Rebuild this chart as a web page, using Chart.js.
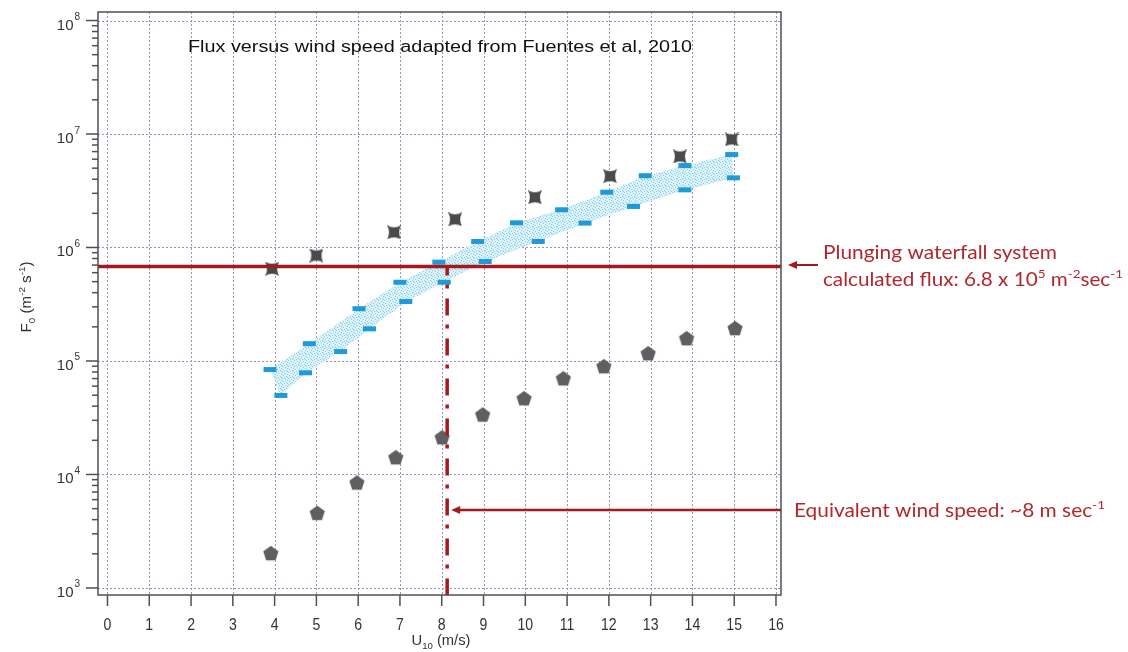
<!DOCTYPE html>
<html>
<head>
<meta charset="utf-8">
<title>Flux versus wind speed</title>
<script src="https://cdn.jsdelivr.net/npm/chart.js@4.4.1/dist/chart.umd.min.js"></script>
<style>
  html, body { margin: 0; padding: 0; background: #ffffff; }
  #c { display: block; }
</style>
</head>
<body>
<canvas id="c" width="1128" height="652"></canvas>
<script>
// ---- Data: sea-spray flux F0 (m^-2 s^-1) against wind speed U10 (m/s) ----
const starX = [3.94, 5.00, 6.86, 8.32, 10.23, 12.03, 13.70, 14.94];
const starY = [6.5e5, 8.5e5, 1.36e6, 1.77e6, 2.77e6, 4.25e6, 6.34e6, 8.95e6];

const pentX = [3.91, 5.02, 5.97, 6.90, 8.01, 8.98, 9.97, 10.91, 11.88, 12.94, 13.86, 15.02];
const pentY = [2.03e3, 4.59e3, 8.5e3, 1.42e4, 2.13e4, 3.38e4, 4.70e4, 7.04e4, 9.0e4, 1.17e5, 1.59e5, 1.95e5];

const upperX = [3.89, 4.83, 6.02, 7.00, 7.93, 8.86, 9.79, 10.87, 11.95, 12.87, 13.82, 14.94];
const upperY = [8.4e4, 1.42e5, 2.89e5, 4.94e5, 7.43e5, 1.13e6, 1.65e6, 2.15e6, 3.07e6, 4.29e6, 5.27e6, 6.59e6];

const lowerX = [4.15, 4.74, 5.58, 6.27, 7.14, 8.06, 9.04, 10.31, 11.43, 12.59, 13.82, 14.98];
const lowerY = [4.97e4, 7.87e4, 1.21e5, 1.92e5, 3.34e5, 4.94e5, 7.53e5, 1.13e6, 1.64e6, 2.30e6, 3.22e6, 4.11e6];

// Axis ticks
const xTickValues = [0, 1, 2, 3, 4, 5, 6, 7, 8, 9, 10, 11, 12, 13, 14, 15, 16];
const yDecadeExponents = [3, 4, 5, 6, 7, 8];

// Reference levels
const plungingFlux = 6.8e5;       // calculated flux of the plunging waterfall system
const equivalentWind = 8.13;      // wind speed where that flux meets the band

// ---- Styling ----
const SANS = "'Liberation Sans', Arial, Helvetica, sans-serif";
const HUMAN = "Lato, 'Open Sans', sans-serif";
const RED_LINE = '#a3191e';
const RED_TEXT = '#b3272c';
const GRID = '#9494bd';
const FRAME = '#505050';

// Marker images
function makeStar(size, color) {
  const c = document.createElement('canvas');
  c.width = c.height = size;
  const g = c.getContext('2d');
  const s = size, m = s / 2, k = s * 0.17;
  g.fillStyle = color;
  g.beginPath();
  g.moveTo(0, 0); g.quadraticCurveTo(m, k * 1.6, s, 0);
  g.quadraticCurveTo(s - k * 1.6, m, s, s);
  g.quadraticCurveTo(m, s - k * 1.6, 0, s);
  g.quadraticCurveTo(k * 1.6, m, 0, 0);
  g.closePath();
  g.fill();
  return c;
}
function makePentagon(r, color) {
  const s = Math.ceil(2 * r + 2);
  const c = document.createElement('canvas');
  c.width = c.height = s;
  const g = c.getContext('2d');
  const cx = s / 2, cy = s / 2 + r * 0.1;
  g.fillStyle = color;
  g.beginPath();
  for (let i = 0; i < 5; i++) {
    const a = -Math.PI / 2 + i * 2 * Math.PI / 5;
    const px = cx + r * Math.cos(a), py = cy + r * Math.sin(a);
    if (i === 0) g.moveTo(px, py); else g.lineTo(px, py);
  }
  g.closePath();
  g.fill();
  return c;
}
function makeSpeckle(g0) {
  const c = document.createElement('canvas');
  c.width = c.height = 6;
  const g = c.getContext('2d');
  g.fillStyle = '#dcf2f9';
  g.fillRect(0, 0, 6, 6);
  g.fillStyle = '#86cbe5';
  [[0, 0], [3, 1], [1, 3], [4, 4], [5, 2], [2, 5], [5, 5]].forEach(([x, y]) => g.fillRect(x, y, 1, 1));
  return g0.createPattern(c, 'repeat');
}

const starImg = makeStar(14, '#4a4a4a');
const pentImg = makePentagon(8, '#5f5f5f');

// ---- Rich text helper (superscripts / subscripts) ----
function runFont(r, size, fam) {
  const s = (r.sup || r.sub) ? size * 0.65 : size;
  return `${s}px ${fam}`;
}
function runsWidth(g, runs, size, fam) {
  let w = 0;
  for (const r of runs) { g.font = runFont(r, size, fam); w += g.measureText(r.t).width; }
  return w;
}
function drawRuns(g, runs, x, y, size, fam, color, align, fitW, sxFixed) {
  const w = runsWidth(g, runs, size, fam);
  let sx = sxFixed || 1;
  if (fitW) sx = fitW / w;
  const total = w * sx;
  const start = align === 'center' ? -total / 2 : align === 'right' ? -total : 0;
  g.save();
  g.fillStyle = color;
  g.textBaseline = 'alphabetic';
  g.textAlign = 'left';
  g.translate(x + start, y);
  g.scale(sx, 1);
  let cx = 0;
  for (const r of runs) {
    g.font = runFont(r, size, fam);
    const dy = r.sup ? -size * 0.4 : r.sub ? size * 0.25 : 0;
    g.fillText(r.t, cx, dy);
    cx += g.measureText(r.t).width;
  }
  g.restore();
}
function arrowLeft(g, x0, x1, y, width, headLen, headHalf, color) {
  g.save();
  g.strokeStyle = color; g.fillStyle = color; g.lineWidth = width;
  g.beginPath(); g.moveTo(x0 + headLen - 1, y); g.lineTo(x1, y); g.stroke();
  g.beginPath(); g.moveTo(x0, y); g.lineTo(x0 + headLen, y - headHalf); g.lineTo(x0 + headLen, y + headHalf); g.closePath(); g.fill();
  g.restore();
}

// ---- Axes, grid, band, annotations ----
const decorations = {
  id: 'decorations',
  beforeDatasetsDraw(chart) {
    const g = chart.ctx, a = chart.chartArea;
    const xs = chart.scales.x, ys = chart.scales.y;
    g.save();
    // dotted grid
    g.strokeStyle = GRID; g.lineWidth = 1; g.setLineDash([2, 2]);
    for (const v of xTickValues) {
      const px = Math.round(xs.getPixelForValue(v)) + 0.5;
      g.beginPath(); g.moveTo(px, a.top); g.lineTo(px, a.bottom); g.stroke();
    }
    for (const e of yDecadeExponents) {
      const py = Math.round(ys.getPixelForValue(Math.pow(10, e))) + 0.5;
      g.beginPath(); g.moveTo(a.left, py); g.lineTo(a.right, py); g.stroke();
    }
    g.setLineDash([]);
    // speckled uncertainty band between the upper and lower bound marks
    const up = chart.getDatasetMeta(0).data.map(p => ({ x: p.x, y: p.y }));
    const lo = chart.getDatasetMeta(1).data.map(p => ({ x: p.x, y: p.y })).reverse();
    const smoothPath = (pts, first) => {
      if (first) g.moveTo(pts[0].x, pts[0].y); else g.lineTo(pts[0].x, pts[0].y);
      for (let i = 1; i < pts.length - 1; i++) {
        const mx = (pts[i].x + pts[i + 1].x) / 2, my = (pts[i].y + pts[i + 1].y) / 2;
        g.quadraticCurveTo(pts[i].x, pts[i].y, mx, my);
      }
      const last = pts[pts.length - 1];
      g.lineTo(last.x, last.y);
    };
    g.beginPath();
    smoothPath(up, true);
    smoothPath(lo, false);
    g.closePath();
    g.fillStyle = makeSpeckle(g);
    g.fill();
    g.restore();
  },
  afterDatasetsDraw(chart) {
    const g = chart.ctx, a = chart.chartArea;
    const xs = chart.scales.x, ys = chart.scales.y;
    const fy = ys.getPixelForValue(plungingFlux);
    const wx = xs.getPixelForValue(equivalentWind);
    g.save();
    // vertical dash-dot line at the equivalent wind speed
    g.strokeStyle = RED_LINE; g.lineWidth = 3.5;
    g.setLineDash([17, 9, 4, 10]); g.lineDashOffset = 8;
    g.beginPath(); g.moveTo(wx, fy); g.lineTo(wx, a.bottom); g.stroke();
    g.setLineDash([]);
    // horizontal line at the plunging waterfall flux
    g.lineWidth = 3.5;
    g.beginPath(); g.moveTo(a.left, fy); g.lineTo(a.right, fy); g.stroke();
    g.restore();
  },
  afterDraw(chart) {
    const g = chart.ctx, a = chart.chartArea;
    const xs = chart.scales.x, ys = chart.scales.y;
    g.save();
    // frame
    g.strokeStyle = FRAME; g.lineWidth = 1.5;
    g.strokeRect(a.left, a.top, a.right - a.left, a.bottom - a.top);
    // x ticks and labels
    g.lineWidth = 1.5;
    for (const v of xTickValues) {
      const px = xs.getPixelForValue(v);
      g.beginPath(); g.moveTo(px, a.bottom); g.lineTo(px, a.bottom + 11); g.stroke();
      drawRuns(g, [{ t: String(v) }], px, 630, 16, SANS, '#333', 'center', null, 0.88);
    }
    // y major / minor ticks and labels
    for (const e of yDecadeExponents) {
      const py = ys.getPixelForValue(Math.pow(10, e));
      g.beginPath(); g.moveTo(a.left - 12, py); g.lineTo(a.left, py); g.stroke();
      g.save();
      g.fillStyle = '#333'; g.textAlign = 'right'; g.textBaseline = 'alphabetic';
      g.font = `15px ${SANS}`;
      g.fillText('10', 73.5, py + 9);
      g.textAlign = 'left'; g.font = `10px ${SANS}`;
      g.fillText(String(e), 74.5, py - 0.5);
      g.restore();
      for (let m = 2; m <= 9; m++) {
        const v = m * Math.pow(10, e);
        if (v > ys.max) break;
        const pm = ys.getPixelForValue(v);
        g.beginPath(); g.moveTo(a.left - 6, pm); g.lineTo(a.left, pm); g.stroke();
      }
    }
    // axis titles
    drawRuns(g, [{ t: 'U' }, { t: '10', sub: true }, { t: ' (m/s)' }], 441, 645, 15, SANS, '#333', 'center', 59);
    g.save();
    g.translate(31, 297);
    g.rotate(-Math.PI / 2);
    drawRuns(g, [{ t: 'F' }, { t: '0', sub: true }, { t: ' (m' }, { t: '-2', sup: true }, { t: ' s' }, { t: '-1', sup: true }, { t: ')' }],
      0, 0, 15, SANS, '#333', 'center', 71);
    g.restore();
    // title inside the plot
    drawRuns(g, [{ t: 'Flux versus wind speed adapted from Fuentes et al, 2010' }], 188, 52, 16, SANS, '#111', 'left', 504);
    // annotation: plunging waterfall flux
    arrowLeft(g, 788, 818, 265, 2, 9, 4, RED_LINE);
    drawRuns(g, [{ t: 'Plunging waterfall system' }], 823, 258.5, 19, HUMAN, RED_TEXT, 'left', 234);
    drawRuns(g, [{ t: 'calculated flux: 6.8 x 10' }, { t: '5', sup: true }, { t: ' m' }, { t: '-2', sup: true }, { t: 'sec' }, { t: '-1', sup: true }],
      823, 286, 19, HUMAN, RED_TEXT, 'left', 300);
    // annotation: equivalent wind speed
    const wx = xs.getPixelForValue(equivalentWind);
    arrowLeft(g, wx + 4, a.right, 510, 2.4, 9, 4, RED_LINE);
    drawRuns(g, [{ t: 'Equivalent wind speed: ~8 m sec' }, { t: '-1', sup: true }], 794, 517, 19, HUMAN, RED_TEXT, 'left', 311);
    g.restore();
  }
};

const toPoints = (xs, ys) => xs.map((x, i) => ({ x, y: ys[i] }));

new Chart(document.getElementById('c'), {
  type: 'scatter',
  data: {
    datasets: [
      { label: 'upper bound', data: toPoints(upperX, upperY), pointStyle: 'line', pointRadius: 6.5,
        borderWidth: 5, borderColor: '#1f9ad8', backgroundColor: '#1f9ad8' },
      { label: 'lower bound', data: toPoints(lowerX, lowerY), pointStyle: 'line', pointRadius: 6.5,
        borderWidth: 5, borderColor: '#1f9ad8', backgroundColor: '#1f9ad8' },
      { label: 'star series', data: toPoints(starX, starY), pointStyle: starImg, pointRadius: 7 },
      { label: 'pentagon series', data: toPoints(pentX, pentY), pointStyle: pentImg, pointRadius: 8 }
    ]
  },
  options: {
    responsive: false,
    animation: false,
    events: [],
    devicePixelRatio: 1,
    layout: { padding: { left: 98, right: 347, top: 12, bottom: 57 } },
    plugins: { legend: { display: false }, tooltip: { enabled: false }, title: { display: false } },
    scales: {
      x: { type: 'linear', display: false, min: -0.227, max: 16.12 },
      y: { type: 'logarithmic', display: false, min: Math.pow(10, 2.938), max: Math.pow(10, 8.075) }
    }
  },
  plugins: [decorations]
});
</script>
</body>
</html>
